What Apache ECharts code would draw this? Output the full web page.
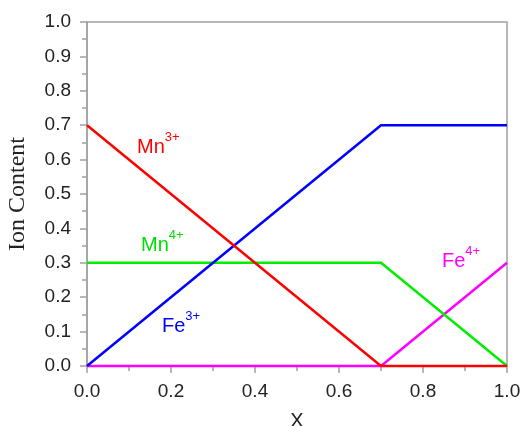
<!DOCTYPE html>
<html>
<head>
<meta charset="utf-8">
<script src="https://cdn.jsdelivr.net/npm/echarts@6/dist/echarts.min.js"></script>
<style>
  html, body { margin: 0; padding: 0; background: #fff; }
  #chart { width: 520px; height: 426px; }
</style>
</head>
<body>
<div id="chart"></div>
<script>
// composition x and ion fractions
const xPoints = [0.0, 0.7, 1.0]
const mn3 = [0.7, 0.0, 0.0]
const fe3 = [0.0, 0.7, 0.7]
const mn4 = [0.3, 0.3, 0.0]
const fe4 = [0.0, 0.0, 0.3]

const seriesDefs = [
  { name: 'Fe4+', values: fe4, color: '#ff00ff' },
  { name: 'Mn4+', values: mn4, color: '#00ee00' },
  { name: 'Fe3+', values: fe3, color: '#0000ff' },
  { name: 'Mn3+', values: mn3, color: '#ff0000' }
]

const gray = '#a0a0a0'
const font = 'Liberation Sans, Arial, sans-serif'

function ionLabel(base, charge, color, left, top) {
  return {
    type: 'text',
    left: left,
    top: top,
    style: {
      text: '{b|' + base + '}{s|' + charge + '}',
      rich: {
        b: { fontSize: 20, fontFamily: font, fill: color, lineHeight: 26, verticalAlign: 'bottom' },
        s: { fontSize: 13, fontFamily: font, fill: color, lineHeight: 26, verticalAlign: 'top' }
      }
    }
  }
}

const chart = echarts.init(document.getElementById('chart'))

chart.setOption({
  animation: false,
  grid: {
    left: 87, right: 13, top: 22, bottom: 60,
    outerBoundsMode: 'none',
    containLabel: false,
    show: true, borderColor: gray, borderWidth: 1.5, backgroundColor: 'transparent'
  },
  xAxis: {
    type: 'value',
    min: 0, max: 1, interval: 0.2,
    name: 'X',
    nameLocation: 'middle',
    nameGap: 45,
    nameTextStyle: { fontSize: 20, fontFamily: font, color: '#222' },
    axisLine: { show: true, lineStyle: { color: gray, width: 1.5 } },
    axisTick: { show: true, length: 7, lineStyle: { color: gray, width: 1.5 } },
    minorTick: { show: true, splitNumber: 2, length: 5, lineStyle: { color: gray, width: 1.5 } },
    splitLine: { show: false },
    axisLabel: {
      fontSize: 19, fontFamily: font, color: '#222', margin: 16,
      formatter: v => v.toFixed(1)
    }
  },
  yAxis: {
    type: 'value',
    min: 0, max: 1, interval: 0.1,
    name: 'Ion Content',
    nameLocation: 'middle',
    nameGap: 57,
    nameTextStyle: { fontSize: 24, fontFamily: 'Liberation Serif, Times New Roman, serif', color: '#222' },
    axisLine: { show: true, lineStyle: { color: gray, width: 1.5 } },
    axisTick: { show: true, length: 7, lineStyle: { color: gray, width: 1.5 } },
    minorTick: { show: true, splitNumber: 2, length: 5, lineStyle: { color: gray, width: 1.5 } },
    splitLine: { show: false },
    axisLabel: {
      fontSize: 19, fontFamily: font, color: '#222', margin: 16,
      formatter: v => v.toFixed(1)
    }
  },
  series: seriesDefs.map(s => ({
    name: s.name,
    type: 'line',
    data: xPoints.map((x, i) => [x, s.values[i]]),
    showSymbol: false,
    symbol: 'none',
    clip: false,
    lineStyle: { color: s.color, width: 2.5 },
    itemStyle: { color: s.color }
  })),
  graphic: [
    ionLabel('Mn', '3+', '#ff0000', 137, 131),
    ionLabel('Mn', '4+', '#00dd00', 141, 229),
    ionLabel('Fe', '3+', '#0000ff', 162, 310),
    ionLabel('Fe', '4+', '#ff00ff', 442, 245)
  ]
})
</script>
</body>
</html>
